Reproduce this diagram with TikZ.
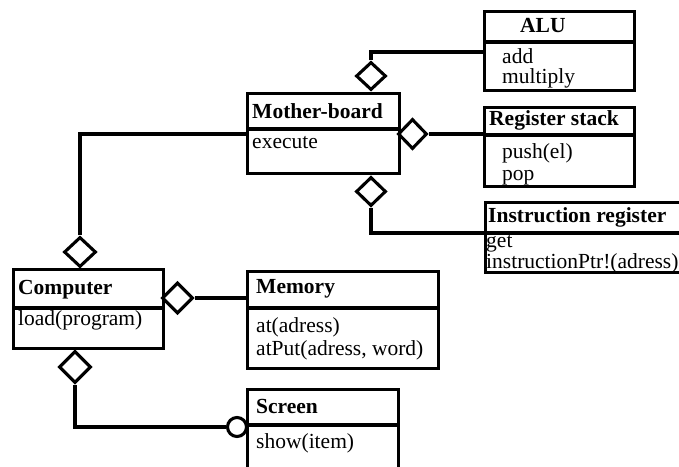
\documentclass[tikz,border=0pt]{standalone}
\usepackage{fontspec}
\setmainfont{Liberation Serif}
\usetikzlibrary{shapes.geometric}
\begin{document}
\begin{tikzpicture}[x=1pt,y=-1pt,
  lw/.style={line width=3.1pt},
  classbox/.style={draw,lw,rectangle,inner sep=0pt,anchor=north west},
  txt/.style={inner sep=0pt,anchor=base west,font=\fontsize{21.5}{22}\selectfont},
  ttl/.style={txt,font=\fontsize{21.5}{22}\selectfont\bfseries},
  agg/.style={draw,lw,diamond,inner sep=0pt,fill=white},
  conn/.style={lw}]
\useasboundingbox (0,0) rectangle (679,466);
\clip (0,0) rectangle (679,466);
% ALU
\node[classbox,minimum width=150pt,minimum height=79pt] (alu) at (483,10) {};
\draw[lw] (483,42) -- (633,42);
\node[ttl] (alut) at (520,32) {ALU};
\node[txt,align=left,font=\fontsize{21.5}{20.5}\selectfont] (alua) at (502,83.5) {add\\multiply};
% Mother-board
\node[classbox,minimum width=152pt,minimum height=80pt] (mb) at (246,92) {};
\draw[lw] (246,129) -- (398,129);
\node[ttl] (mbt) at (252,118) {Mother-board};
\node[txt] (mba) at (252,148) {execute};
% Register stack
\node[classbox,minimum width=150pt,minimum height=79pt] (rs) at (483,106) {};
\draw[lw] (483,135) -- (633,135);
\node[ttl] (rst) at (489,125) {Register stack};
\node[txt,align=left,font=\fontsize{21.5}{22}\selectfont] (rsa) at (502,180) {push(el)\\pop};
% Instruction register
\node[classbox,minimum width=230pt,minimum height=70pt] (ir) at (484,201) {};
\draw[lw] (484,233) -- (714,233);
\node[ttl] (irt) at (488,222) {Instruction register};
\node[txt,align=left,font=\fontsize{21.5}{18.5}\selectfont] (ira) at (486,268.5) {get\\instructionPtr!(adress)};
% Computer
\node[classbox,minimum width=150pt,minimum height=79pt] (comp) at (12,268) {};
\draw[lw] (12,308) -- (162,308);
\node[ttl] (compt) at (18,294) {Computer};
\node[txt] (compa) at (18,325) {load(program)};
% Memory
\node[classbox,minimum width=191pt,minimum height=97pt] (mem) at (246,270) {};
\draw[lw] (246,308) -- (440,308);
\node[ttl] (memt) at (256,293) {Memory};
\node[txt,align=left,font=\fontsize{21.5}{23}\selectfont] (mema) at (256,355) {at(adress)\\atPut(adress, word)};
% Screen
\node[classbox,minimum width=151pt,minimum height=100pt] (scr) at (246,388) {};
\draw[lw] (246,425) -- (397,425);
\node[ttl] (scrt) at (256,413) {Screen};
\node[txt] (scra) at (256,448) {show(item)};
% aggregation diamonds
\node[agg,minimum width=30pt,minimum height=28pt] (d1) at (371,76) {};
\node[agg,minimum width=29pt,minimum height=30pt] (d2) at (412.5,134) {};
\node[agg,minimum width=30pt,minimum height=29pt] (d3) at (371,191.5) {};
\node[agg,minimum width=32pt,minimum height=30pt] (d4) at (80,252) {};
\node[agg,minimum width=31pt,minimum height=31pt] (d5) at (177.5,298) {};
\node[agg,minimum width=32pt,minimum height=32pt] (d6) at (75,367) {};
\node[draw,lw,circle,fill=white,inner sep=0pt,minimum size=19pt] (c1) at (237,427) {};
% connector ends
\coordinate (aluin) at (483,52);
\coordinate (irin) at (484,233);
\coordinate (mbin) at (246,134);
% connectors
\draw[conn] (d1.north) |- (aluin);
\draw[conn] (d2.east) -- (d2.east -| rs.west);
\draw[conn] (d3.south) |- (irin);
\draw[conn] (d4.north) |- (mbin);
\draw[conn] (d5.east) -- (d5.east -| mem.west);
\draw[conn] (d6.south) |- (c1.west);
\end{tikzpicture}
\end{document}
